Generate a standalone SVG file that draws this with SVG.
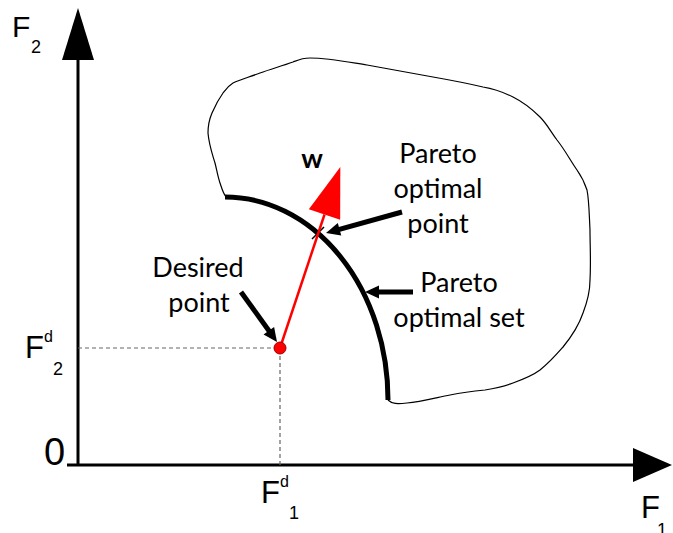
<svg xmlns="http://www.w3.org/2000/svg" width="673" height="533" viewBox="0 0 673 533">
<style>
.ax{font-family:"Liberation Sans",Arial,sans-serif;fill:#000}
.lb{font-family:Lato,"Liberation Sans",sans-serif;font-size:27px;fill:#000;text-anchor:middle}
.thick{stroke:#000;stroke-width:5;fill:none}
.dash{stroke:#666;stroke-width:1.2;stroke-dasharray:4,3;fill:none}
</style>
<defs>
<marker id="ab" markerUnits="userSpaceOnUse" markerWidth="15" markerHeight="13" refX="2" refY="6.5" orient="auto" overflow="visible">
<path d="M0,0 L14,6.5 L0,13 z" fill="#000"/>
</marker>
<marker id="ar" markerUnits="userSpaceOnUse" markerWidth="50" markerHeight="34" refX="0" refY="16.5" orient="auto" overflow="visible">
<path d="M0,0 L50,16.5 L0,33 z" fill="#f00"/>
</marker>
</defs>
<g id="axes">
<line x1="78" y1="58" x2="78" y2="466" stroke="#000" stroke-width="3"/>
<polygon points="78,8 62,60 94,60" fill="#000"/>
<line x1="67" y1="465" x2="634" y2="465" stroke="#000" stroke-width="3"/>
<polygon points="672,465 633,448 633,482" fill="#000"/>
<text class="ax" x="12" y="37" font-size="30">F</text>
<text class="ax" x="31" y="53" font-size="18">2</text>
<text class="ax" x="25" y="358" font-size="31">F</text>
<text class="ax" x="44" y="342" font-size="16">d</text>
<text class="ax" x="53" y="375" font-size="18">2</text>
<text class="ax" x="44" y="465" font-size="38">0</text>
<text class="ax" x="261" y="503" font-size="31">F</text>
<text class="ax" x="280" y="487" font-size="16">d</text>
<text class="ax" x="289" y="519" font-size="18">1</text>
<text class="ax" x="641" y="518" font-size="31">F</text>
<text class="ax" x="657" y="536" font-size="18">1</text>
</g>
<g id="guides">
<path class="dash" d="M78,348 H280 V465"/>
</g>
<g id="feasible-region">
<path d="M388,400 C392,404 397,404 407,403 C420,402 435,398 450,395 C465,392 475,391 485,390 C497,388 505,386 513,383 C524,379 532,376 540,370 C550,362 556,355 563,347 C572,336 579,325 583,313 C588,300 590,292 590,280 C591,262 590,245 590,230 C589,210 589,200 587,190 C584,181 582,177 577,170 C570,160 565,150 557,140 C551,132 547,124 540,117 C531,108 523,102 513,97 C503,92 495,89 483,87 C466,83 450,80 433,77 C411,73 389,69 367,65 C348,62 329,58 310,58 C302,58 298,60 293,62 C282,66 271,69 260,73 C250,77 241,79 233,83 C228,86 226,89 223,93 C218,100 215,106 212,113 C209,120 208,127 208,133 C209,145 212,153 215,163 C217,171 218,177 220,183 C222,189 223,193 226,197" fill="none" stroke="#000" stroke-width="1.2"/>
</g>
<g id="pareto-set">
<path class="thick" d="M225,197 A163,203 0 0 1 388,400"/>
</g>
<g id="pareto-point">
<path d="M312,227 L324,239 M312,239 L324,227" stroke="#000" stroke-width="1.5"/>
</g>
<g id="w-vector">
<line x1="280" y1="348" x2="324.5" y2="214.5" stroke="#f00" stroke-width="2.5" marker-end="url(#ar)"/>
<text class="lb" x="312" y="168" font-weight="bold">w</text>
</g>
<g id="desired-point">
<circle cx="280" cy="348" r="6" fill="#f00" stroke="#900" stroke-width="1"/>
<text class="lb" x="198" y="277">Desired</text>
<text class="lb" x="199" y="312">point</text>
</g>
<g id="label-pareto-point">
<text class="lb" x="438" y="163">Pareto</text>
<text class="lb" x="438" y="198">optimal</text>
<text class="lb" x="438" y="233">point</text>
</g>
<g id="label-pareto-set">
<text class="lb" x="459" y="292">Pareto</text>
<text class="lb" x="459" y="327">optimal set</text>
</g>
<g id="connectors">
<line class="thick" x1="402" y1="212" x2="337.6" y2="229.8" marker-end="url(#ab)"/>
<line class="thick" x1="241" y1="292" x2="270" y2="332.3" marker-end="url(#ab)"/>
<line class="thick" x1="413" y1="292" x2="377" y2="292" marker-end="url(#ab)"/>
</g>
</svg>
